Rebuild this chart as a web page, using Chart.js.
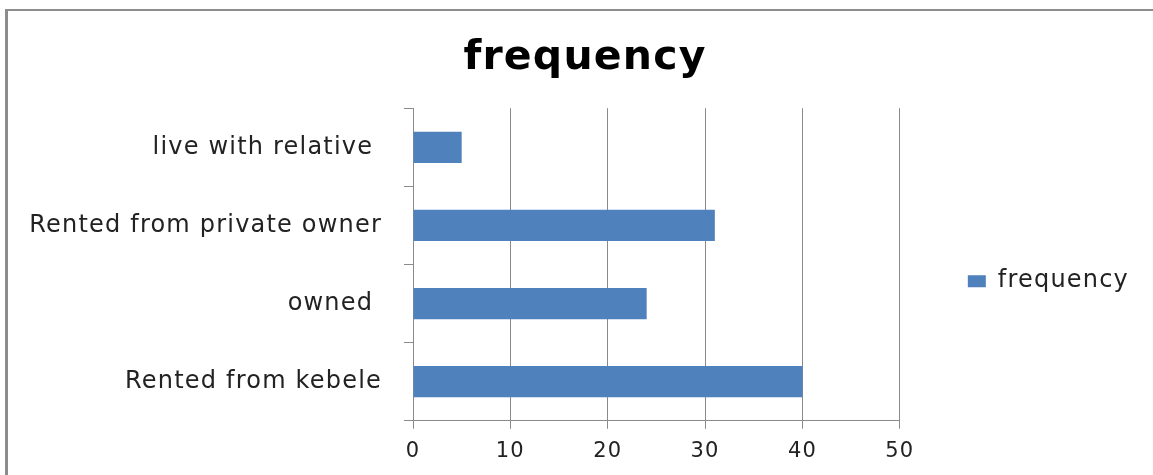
<!DOCTYPE html>
<html>
<head>
<meta charset="utf-8">
<script src="https://cdn.jsdelivr.net/npm/chart.js@4/dist/chart.umd.min.js"></script>
<style>
  html, body { margin: 0; padding: 0; background: #fff; overflow: hidden; }
  #frame {
    position: absolute; left: 5px; top: 9px; width: 1300px; height: 600px;
    border-left: 3px solid #8c8c8c; border-top: 2px solid #8c8c8c;
  }
  #chart { position: absolute; left: 0; top: 0; }
</style>
</head>
<body>
<div id="frame"></div>
<canvas id="chart" width="1153" height="475"></canvas>
<script>
// Housing situation of respondents
const categories = ['live with relative ', 'Rented from private owner', 'owned ', 'Rented from kebele'];
const frequency = [5, 31, 24, 40];
const xTicks = [0, 10, 20, 30, 40, 50];

const seriesName = 'frequency';
const gridColor = '#8a8a8a';
const textColor = '#222';
const fontFamily = "'DejaVu Sans', sans-serif";

// Slightly wider letter spacing for all canvas text
const letterSpacing = {
  id: 'letterSpacing',
  beforeUpdate(chart) { chart.ctx.letterSpacing = '1.2px'; },
  beforeDraw(chart) { chart.ctx.letterSpacing = '1.2px'; }
};

new Chart(document.getElementById('chart'), {
  type: 'bar',
  data: {
    labels: categories,
    datasets: [{
      label: seriesName,
      data: frequency,
      backgroundColor: '#4f81bd',
      borderWidth: 0,
      categoryPercentage: 1.0,
      barPercentage: 0.4
    }]
  },
  options: {
    indexAxis: 'y',
    responsive: false,
    animation: false,
    layout: { padding: { left: 31, right: 14, top: 0, bottom: 1 } },
    plugins: {
      title: {
        display: true,
        text: 'frequency',
        color: '#000',
        font: { family: fontFamily, size: 41, weight: 'bold', lineHeight: 1.2 },
        padding: { top: 34, bottom: 25 }
      },
      legend: {
        position: 'right',
        // empty legend title keeps the single entry lower in the column
        title: { display: true, text: '', padding: { top: 74, bottom: 0 }, font: { size: 12 } },
        labels: {
          boxWidth: 18,
          boxHeight: 12,
          padding: 68,
          color: textColor,
          font: { family: fontFamily, size: 24 }
        }
      },
      tooltip: { enabled: false }
    },
    scales: {
      x: {
        min: 0,
        max: 50,
        afterBuildTicks(scale) { scale.ticks = xTicks.map(v => ({ value: v })); },
        grid: { color: gridColor, lineWidth: 1, tickLength: 8, drawTicks: true },
        border: { color: gridColor, width: 1 },
        ticks: { color: textColor, padding: 10, font: { family: fontFamily, size: 21 } }
      },
      y: {
        afterFit(scale) { scale.width = 382; },
        grid: { color: gridColor, drawOnChartArea: false, drawTicks: true, tickLength: 9, offset: true },
        border: { color: gridColor, width: 1 },
        ticks: { color: textColor, padding: 22, font: { family: fontFamily, size: 24 } }
      }
    }
  },
  plugins: [letterSpacing]
});
</script>
</body>
</html>
